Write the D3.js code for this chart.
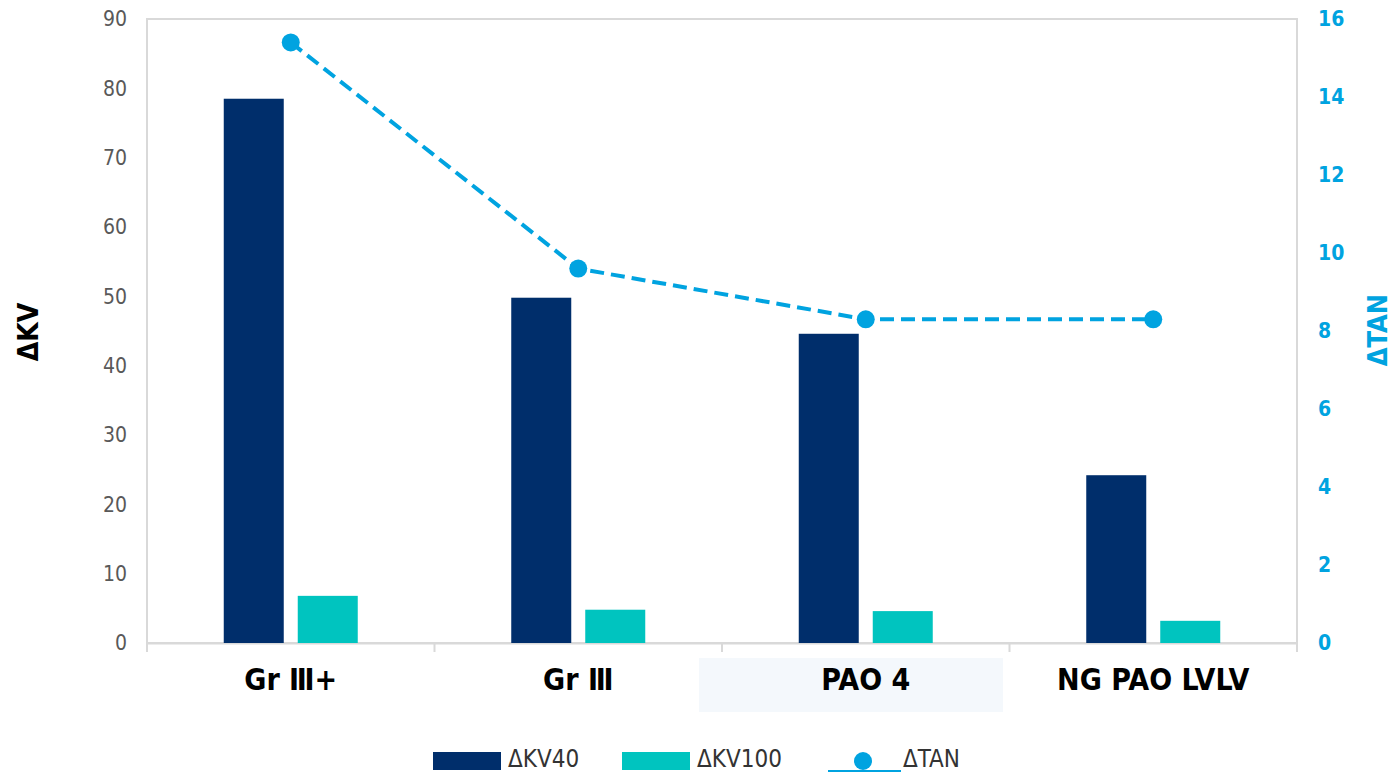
<!DOCTYPE html>
<html>
<head>
<meta charset="utf-8">
<script src="https://cdn.jsdelivr.net/npm/d3@7/dist/d3.min.js"></script>
<style>
  html, body { margin: 0; padding: 0; background: #ffffff; }
  svg { display: block; }
</style>
</head>
<body>
<svg id="chart" width="1393" height="774"></svg>
<script>
// Viscosity and TAN increase per base oil
const categories = ["Gr \u2162+", "Gr \u2162", "PAO 4", "NG PAO LVLV"];
const kv40 = [78.5, 49.8, 44.6, 24.2];
const kv100 = [6.8, 4.8, 4.6, 3.2];
const tan = [15.4, 9.6, 8.3, 8.3];
const leftTicks = [0, 10, 20, 30, 40, 50, 60, 70, 80, 90];
const rightTicks = [0, 2, 4, 6, 8, 10, 12, 14, 16];

const NAVY = "#002e6b", TEAL = "#00c4bf", BLUE = "#00a3e0", GRID = "#d9d9d9";
const FONT = "'DejaVu Sans Condensed', 'DejaVu Sans', sans-serif";

const svg = d3.select("#chart");
const m = { left: 147, right: 1297, top: 19, bottom: 643 };

const x = d3.scaleBand().domain(categories).range([m.left, m.right]);
const yL = d3.scaleLinear().domain([0, 90]).range([m.bottom, m.top]);
const yR = d3.scaleLinear().domain([0, 16]).range([m.bottom, m.top]);
const inner = d3.scaleBand().domain(["kv40", "kv100"])
  .range([x.bandwidth() / 2 - 67, x.bandwidth() / 2 + 67]).paddingInner(14 / 74);

// plot frame
svg.append("rect")
  .attr("x", m.left).attr("y", m.top)
  .attr("width", m.right - m.left).attr("height", m.bottom - m.top)
  .attr("fill", "none").attr("stroke", GRID).attr("stroke-width", 2);

// highlight behind one category label
svg.append("rect")
  .attr("x", x("PAO 4") - 23).attr("y", 658)
  .attr("width", 304).attr("height", 54)
  .attr("fill", "#f4f8fc");

// left axis
const gL = svg.append("g").attr("transform", `translate(${m.left},0)`)
  .call(d3.axisLeft(yL).tickValues(leftTicks).tickSize(0).tickPadding(20));
gL.select(".domain").remove();
gL.selectAll("text").attr("fill", "#595959").style("font-family", FONT).style("font-size", "21px");

// right axis
const gR = svg.append("g").attr("transform", `translate(${m.right},0)`)
  .call(d3.axisRight(yR).tickValues(rightTicks).tickSize(0).tickPadding(21));
gR.select(".domain").remove();
gR.selectAll("text").attr("fill", BLUE).style("font-family", FONT)
  .style("font-size", "21px").style("font-weight", "bold");

// bottom axis
const gB = svg.append("g").attr("transform", `translate(0,${m.bottom})`)
  .call(d3.axisBottom(x).tickSize(0));
gB.select(".domain").attr("stroke", GRID).attr("stroke-width", 2);
gB.selectAll("text").attr("y", 47).attr("dy", 0).attr("fill", "#000").style("font-family", FONT)
  .style("font-size", "30px").style("font-weight", "bold");
// category dividers
svg.append("g").selectAll("line")
  .data(categories.concat([null]))
  .join("line")
  .attr("x1", (d, i) => m.left + i * x.bandwidth())
  .attr("x2", (d, i) => m.left + i * x.bandwidth())
  .attr("y1", m.bottom).attr("y2", m.bottom + 9)
  .attr("stroke", GRID).attr("stroke-width", 2);

// bars
const groups = svg.append("g").selectAll("g")
  .data(categories).join("g")
  .attr("transform", d => `translate(${x(d)},0)`);
groups.append("rect")
  .attr("x", inner("kv40")).attr("width", inner.bandwidth())
  .attr("y", (d, i) => yL(kv40[i])).attr("height", (d, i) => yL(0) - yL(kv40[i]))
  .attr("fill", NAVY);
groups.append("rect")
  .attr("x", inner("kv100")).attr("width", inner.bandwidth())
  .attr("y", (d, i) => yL(kv100[i])).attr("height", (d, i) => yL(0) - yL(kv100[i]))
  .attr("fill", TEAL);

// TAN line
const cx = d => x(d) + x.bandwidth() / 2;
const line = d3.line().x((d, i) => cx(categories[i])).y(d => yR(d));
svg.append("path").datum(tan).attr("d", line)
  .attr("fill", "none").attr("stroke", BLUE).attr("stroke-width", 4)
  .attr("stroke-dasharray", "14,7");
svg.append("g").selectAll("circle").data(tan).join("circle")
  .attr("cx", (d, i) => cx(categories[i])).attr("cy", d => yR(d))
  .attr("r", 9).attr("fill", BLUE);

// axis titles
svg.append("text").attr("transform", "translate(38,332) rotate(-90)")
  .attr("text-anchor", "middle").attr("fill", "#000")
  .style("font-family", FONT).style("font-size", "28px").style("font-weight", "bold")
  .text("\u0394KV");
svg.append("text").attr("transform", "translate(1387,330) rotate(-90)")
  .attr("text-anchor", "middle").attr("fill", BLUE)
  .style("font-family", FONT).style("font-size", "27px").style("font-weight", "bold")
  .text("\u0394TAN");

// legend
const legend = svg.append("g").style("font-family", FONT).style("font-size", "24px");
const lg = [
  { label: "\u0394KV40", color: NAVY, x: 433, type: "bar" },
  { label: "\u0394KV100", color: TEAL, x: 622, type: "bar" },
  { label: "\u0394TAN", color: BLUE, x: 828, type: "line" }
];
lg.forEach(d => {
  if (d.type === "bar") {
    legend.append("rect").attr("x", d.x).attr("y", 752).attr("width", 68).attr("height", 18).attr("fill", d.color);
  } else {
    legend.append("line").attr("x1", d.x).attr("x2", d.x + 73).attr("y1", 771).attr("y2", 771)
      .attr("stroke", d.color).attr("stroke-width", 2);
    legend.append("circle").attr("cx", d.x + 35).attr("cy", 761).attr("r", 9).attr("fill", d.color);
  }
  legend.append("text").attr("x", d.x + 75).attr("y", 767)
    .attr("fill", "#333").text(d.label);
});
</script>
</body>
</html>
